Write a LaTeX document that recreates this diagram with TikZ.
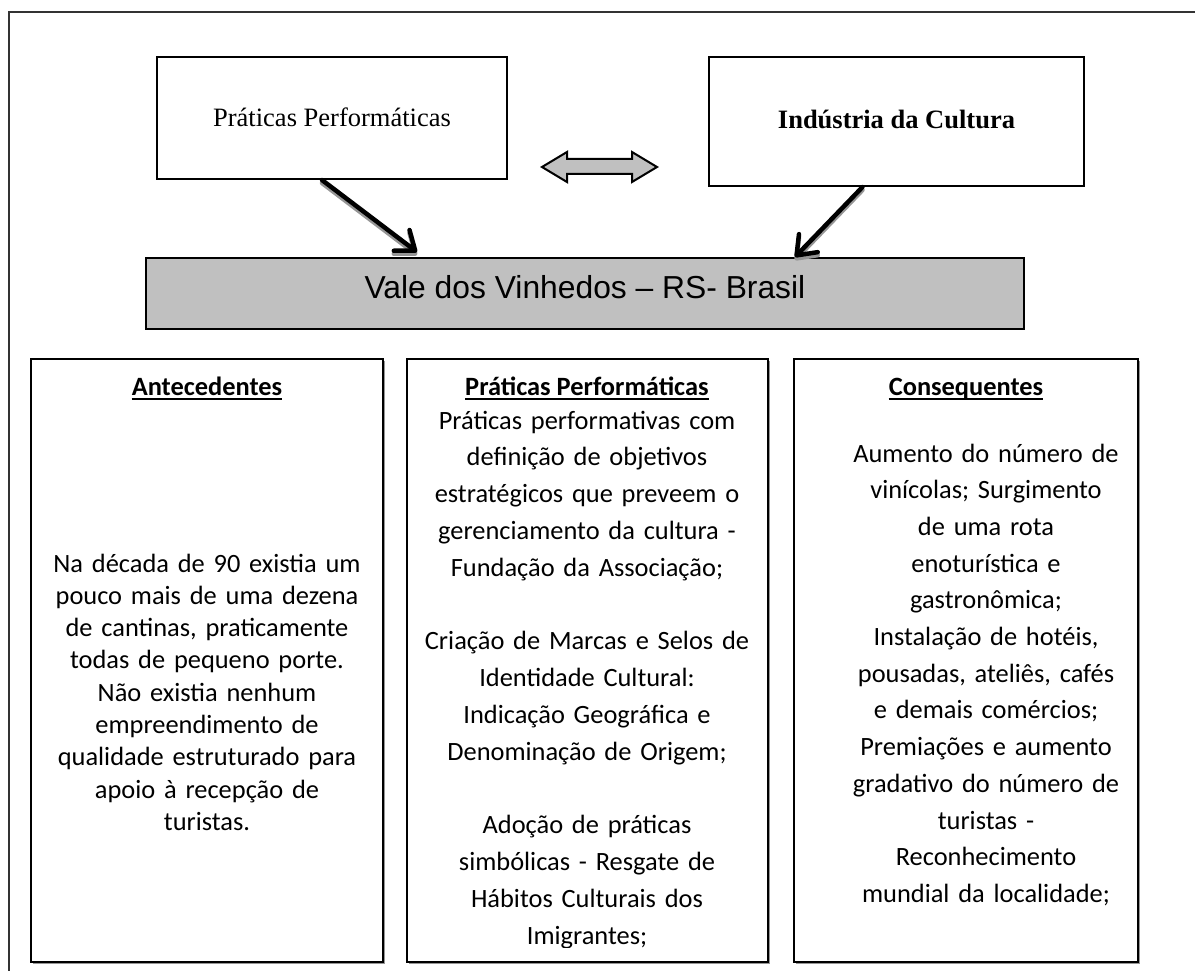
\documentclass[tikz,border=0pt]{standalone}
\usepackage{fontspec}
\newfontfamily\fCal{Carlito}
\newfontfamily\fTms{Liberation Serif}
\newfontfamily\fArl{Liberation Sans}
\usetikzlibrary{arrows.meta,calc,shadows}
\definecolor{boxgray}{RGB}{192,192,192}
\definecolor{shadowgray}{RGB}{150,150,150}
\begin{document}
\begin{tikzpicture}[x=1pt,y=-1pt,
  topbox/.style={draw=black, line width=2pt, inner sep=0pt},
  valebox/.style={draw=black, line width=2pt, fill=boxgray, inner sep=0pt, minimum width=878pt, minimum height=71pt,
    font=\fArl\fontsize{31.8pt}{36pt}\selectfont, text height=9pt, text depth=0pt},
  lowbox/.style={draw=black, line width=1.5pt, fill=white, inner sep=0pt, minimum height=603pt,
    drop shadow={shadow xshift=1.6pt, shadow yshift=-1.6pt, fill=shadowgray, opacity=1}},
  headtxt/.style={inner sep=0pt, anchor=base, font=\fCal\bfseries\fontsize{26.4pt}{32pt}\selectfont},
  bodytxt/.style={inner sep=0pt, anchor=base, align=center, text width=340pt},
  bigarrow/.style={line width=4.5pt, line cap=round, -{Straight Barb[length=17pt,width=26pt,line cap=round,line join=round]}},
  arrowshadow/.style={bigarrow, draw=shadowgray, transform canvas={yshift=-3pt}},
]
\useasboundingbox (0,0) rectangle (1195,971);
\fill[white] (0,0) rectangle (1195,971);
% outer frame
\draw[line width=1.3pt, black!80] (9,971) -- (9,12) -- (1195,12);

% top boxes
\node[topbox, minimum width=350pt, minimum height=122pt, font=\fTms\fontsize{26.5pt}{30pt}\selectfont,
  text height=17.4pt, text depth=0pt] (pp) at (332,118) {Práticas Performáticas};
\node[topbox, minimum width=375pt, minimum height=129pt, font=\fTms\bfseries\fontsize{26.5pt}{30pt}\selectfont,
  text height=13.6pt, text depth=0pt] (ic) at (896.5,121.5) {Indústria da Cultura};

% double arrow
\filldraw[fill=boxgray, draw=black, line width=2pt, line join=miter]
  (542,167) -- (567,152) -- (567,159) -- (632,159) -- (632,152) -- (657,167)
  -- (632,182) -- (632,174) -- (567,174) -- (567,182) -- cycle;

% central gray box
\node[valebox] (vale) at (585,293.5) {Vale dos Vinhedos – RS- Brasil};

% diagonal arrows (shadows first)
\draw[arrowshadow] ([xshift=-10pt]pp.south) -- ([xshift=-168pt,yshift=5pt]vale.north);
\draw[arrowshadow] ([xshift=-34pt]ic.south) -- ([xshift=210pt]vale.north);
\draw[bigarrow] ([xshift=-10pt]pp.south) -- ([xshift=-168pt,yshift=5pt]vale.north);
\draw[bigarrow] ([xshift=-34pt]ic.south) -- ([xshift=210pt]vale.north);

% lower boxes
\node[lowbox, minimum width=352pt] (boxA) at (207,660.5) {};
\node[lowbox, minimum width=361pt] (boxM) at (587.5,660.5) {};
\node[lowbox, minimum width=344pt] (boxR) at (966,660.5) {};

% headings
\node[headtxt] (hA) at (207,395) {Antecedentes};
\node[headtxt] (hM) at (587,395) {Práticas Performáticas};
\node[headtxt] (hR) at (966,395) {Consequentes};
\foreach \h in {hA,hM,hR}{
  \draw[line width=1.8pt] ([yshift=-4.3pt]\h.base west) -- ([yshift=-4.3pt]\h.base east);
}

% body texts
\node[bodytxt, font=\fCal\fontsize{26.4pt}{32.3pt}\selectfont] (tA) at (207,572)
  {Na década de 90 existia um\\pouco mais de uma dezena\\de cantinas, praticamente\\todas de pequeno porte.\\Não existia nenhum\\empreendimento de\\qualidade estruturado para\\apoio à recepção de\\turistas.};

\begin{scope}
\clip (407,359) rectangle (768,947);
\node[bodytxt, font=\fCal\fontsize{26.4pt}{36.8pt}\selectfont] (tM) at (587,429)
  {Práticas performativas com\\definição de objetivos\\estratégicos que preveem o\\gerenciamento da cultura -\\Fundação da Associação;\\[36.8pt]Criação de Marcas e Selos de\\Identidade Cultural:\\Indicação Geográfica e\\Denominação de Origem;\\[36.8pt]Adoção de práticas\\simbólicas - Resgate de\\Hábitos Culturais dos\\Imigrantes;};
\end{scope}

\node[bodytxt, font=\fCal\fontsize{26.4pt}{36.7pt}\selectfont] (tR) at (986,462)
  {Aumento do número de\\vinícolas; Surgimento\\de uma rota\\enoturística e\\gastronômica;\\Instalação de hotéis,\\pousadas, ateliês, cafés\\e demais comércios;\\Premiações e aumento\\gradativo do número de\\turistas -\\Reconhecimento\\mundial da localidade;};
\end{tikzpicture}
\end{document}
